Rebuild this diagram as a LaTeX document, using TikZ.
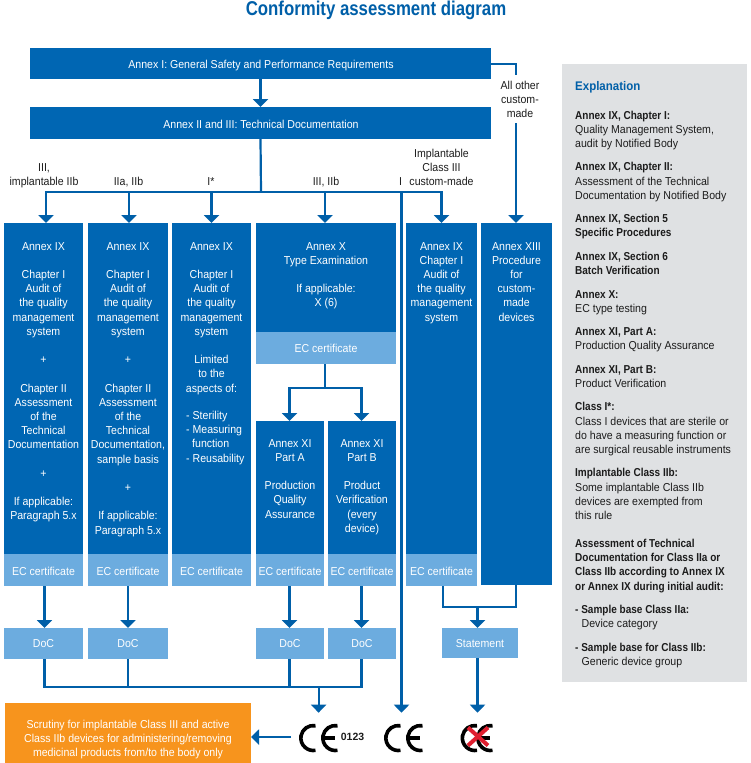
\documentclass[tikz,border=0pt]{standalone}
\usepackage{fontspec}
\setmainfont[FakeStretch=0.92]{Liberation Sans}
\newfontfamily\ttlf[FakeStretch=0.84]{Liberation Sans}
\newfontfamily\bdf[FakeStretch=0.87]{Liberation Sans}
\newfontfamily\numf{Liberation Sans}
\newcommand{\bt}[1]{{\bdf\bfseries #1}}
\usetikzlibrary{arrows.meta,calc}
\definecolor{dk}{HTML}{0066B3}
\definecolor{lt}{HTML}{6CACDF}
\definecolor{og}{HTML}{F7941D}
\definecolor{gy}{HTML}{DFE1E3}
\definecolor{ln}{HTML}{005FA8}
\definecolor{ink}{HTML}{1C1C1C}
\definecolor{xred}{HTML}{DF1F30}
\tikzset{
  bxs/.style={inner sep=0pt,outer sep=0pt},
  darkbox/.style={bxs,fill=dk},
  lightbox/.style={bxs,fill=lt},
  orangebox/.style={bxs,fill=og},
  graybox/.style={bxs,fill=gy},
  wtx/.style={text=white,align=center,inner sep=0pt,anchor=north,font=\fontsize{11.5}{14.2}\selectfont},
  btx/.style={text=ink,align=center,inner sep=0pt,anchor=north,font=\fontsize{11.5}{14.2}\selectfont},
  etx/.style={text=ink,align=left,inner sep=0pt,anchor=north west,font=\fontsize{11.5}{14.2}\selectfont},
  conn/.style={draw=ln,line width=2.2pt},
  arr/.style={conn,-{Triangle[width=15pt,length=8pt]}},
  cestroke/.style={line width=3.6pt,draw=black},
}
\newcommand{\bx}[6]{\node[#6,minimum width={#4-#2},minimum height={#5-#3}] (#1) at ({(#2+#4)/2},{(#3+#5)/2}) {};}
\newcommand{\tx}[5]{\node[#1] (#2) at (#3,{#4-4.1}) {#5};}
\newcommand{\ex}[3]{\node[etx] (#1) at (575,{#2-4.1}) {#3};}
\newcommand{\cemark}[2]{%
  \draw[cestroke] ({#1+16.5},725.7) arc[start angle=-80,end angle=-280,radius=12.5];
  \draw[cestroke] ({#2+16.5},725.7) arc[start angle=-80,end angle=-280,radius=12.5];
  \draw[line width=3.2pt] ({#2+2},738) -- ({#2+14},738);
}
\begin{document}
\begin{tikzpicture}[x=1pt,y=-1pt]
\useasboundingbox (0,0) rectangle (750,763);
% title
\node[text=ln,inner sep=0pt,font=\fontsize{20}{24}\ttlf\bfseries\selectfont] (title) at (376,10) {Conformity assessment diagram};
% top boxes
\bx{a1}{30}{48}{491}{79}{darkbox}
\bx{a2}{30}{107}{491}{139}{darkbox}
\tx{wtx}{a1t}{261}{64}{Annex I: General Safety and Performance Requirements}
\tx{wtx}{a2t}{261}{124}{Annex II and III: Technical Documentation}
% columns
\bx{c1}{4}{223}{83}{554}{darkbox}
\bx{c2}{88}{223}{168}{554}{darkbox}
\bx{c3}{172}{223}{251}{554}{darkbox}
\bx{c4}{256}{223}{396}{332}{darkbox}
\bx{c5}{406}{223}{477}{554}{darkbox}
\bx{c6}{481}{223}{552}{585}{darkbox}
\bx{e4}{256}{332}{396}{364}{lightbox}
\bx{p1}{256}{421}{324}{554}{darkbox}
\bx{p2}{328}{421}{396}{554}{darkbox}
\bx{ec1}{4}{554}{83}{586}{lightbox}
\bx{ec2}{88}{554}{168}{586}{lightbox}
\bx{ec3}{172}{554}{251}{586}{lightbox}
\bx{ec4}{256}{554}{324}{586}{lightbox}
\bx{ec5}{328}{554}{396}{586}{lightbox}
\bx{ec6}{406}{554}{477}{586}{lightbox}
\bx{d1}{4}{628}{83}{659}{lightbox}
\bx{d2}{88}{628}{168}{659}{lightbox}
\bx{d3}{256}{628}{324}{659}{lightbox}
\bx{d4}{328}{628}{396}{659}{lightbox}
\bx{st}{442}{628}{518}{658}{lightbox}
\bx{og}{5}{703}{251}{763}{orangebox}
\bx{pan}{562}{64}{747}{682}{graybox}
% column text
\tx{wtx}{c1t}{43.5}{246}{Annex IX\\[14.2pt]Chapter I\\Audit of\\the quality\\management\\system\\[14.2pt]+\\[14.2pt]Chapter II\\Assessment\\of the\\Technical\\Documentation\\[14.2pt]+\\[14.2pt]If applicable:\\Paragraph 5.x}
\tx{wtx}{c2t}{128}{246}{Annex IX\\[14.2pt]Chapter I\\Audit of\\the quality\\management\\system\\[14.2pt]+\\[14.2pt]Chapter II\\Assessment\\of the\\Technical\\Documentation,\\sample basis\\[14.2pt]+\\[14.2pt]If applicable:\\Paragraph 5.x}
\tx{wtx}{c3t}{211.5}{246}{Annex IX\\[14.2pt]Chapter I\\Audit of\\the quality\\management\\system\\[14.2pt]Limited\\to the\\aspects of:}
\node[wtx,anchor=north west,align=left] (c3l) at (186,{415-4.1}) {- Sterility\\- Measuring\\\hspace*{6pt}function\\- Reusability};
\tx{wtx}{c4t}{326}{246}{Annex X\\Type Examination\\[14.2pt]If applicable:\\X (6)}
\tx{wtx}{c5t}{441.5}{246}{Annex IX\\Chapter I\\Audit of\\the quality\\management\\system}
\tx{wtx}{c6t}{516.5}{246}{Annex XIII\\Procedure\\for\\custom-\\made\\devices}
\tx{wtx}{e4t}{326}{348}{EC certificate}
\tx{wtx}{p1t}{290}{443}{Annex XI\\Part A\\[14.2pt]Production\\Quality\\Assurance}
\tx{wtx}{p2t}{362}{443}{Annex XI\\Part B\\[14.2pt]Product\\Verification\\(every\\device)}
\foreach \n/\c in {ec1/43.5,ec2/128,ec3/211.5,ec4/290,ec5/362,ec6/441.5}{
  \tx{wtx}{\n t}{\c}{571}{EC certificate}
}
\foreach \n/\c in {d1/43.5,d2/128,d3/290,d4/362}{
  \tx{wtx}{\n t}{\c}{643}{DoC}
}
\tx{wtx}{stt}{480}{643}{Statement}
\tx{wtx}{ogt}{128}{724}{Scrutiny for implantable Class III and active\\Class IIb devices for administering/removing\\medicinal products from/to the body only}
% labels
\tx{btx}{l1}{44}{167}{III,\\implantable IIb}
\tx{btx}{l2}{128.5}{181}{IIa, IIb}
\tx{btx}{l3}{211}{181}{I*}
\tx{btx}{l4}{326}{181}{III, IIb}
\tx{btx}{l5}{400.5}{181}{I}
\tx{btx}{l6}{441.5}{153}{Implantable\\Class III\\custom-made}
\tx{btx}{l7}{520}{85}{All other\\custom-\\made}
% connectors
\coordinate (j) at (261,192);
\coordinate (bl) at (46,192);
\coordinate (b2) at (129,192);
\coordinate (b3) at (211.5,192);
\coordinate (b4) at (325,192);
\coordinate (bi) at (401.5,192);
\coordinate (br) at (441.5,192);
\coordinate (tr) at (516,64);
\coordinate (lab) at (516,75);
\coordinate (labb) at (516,123);
\coordinate (ce1n) at (318.6,712.7);
\coordinate (ce2n) at (401.5,712.7);
\coordinate (ce3n) at (477.5,712.7);
\coordinate (ce1w) at (291,737);
\coordinate (m4) at (325,388);
\coordinate (mL) at (289.5,388);
\coordinate (mR) at (361.5,388);
\coordinate (q1) at (44.5,687);
\coordinate (q2) at (128,687);
\coordinate (q3) at (289.5,687);
\coordinate (q4) at (361.5,687);
\coordinate (qm) at (318.6,687);
\coordinate (s1) at (443,606.7);
\coordinate (s2) at (516,606.7);
\coordinate (sm) at (477.5,606.7);
\draw[arr] (a1.south) -- (a1.south |- a2.north);
\draw[conn] (a2.south) -- (j);
\draw[conn,line cap=rect] (bl) -- (br);
\draw[conn] (a1.east |- tr) -- (tr) -- (lab);
\draw[arr] (labb) -- (c6.north -| labb);
\draw[arr] (bl) -- (bl |- c1.north);
\draw[arr] (b2) -- (b2 |- c2.north);
\draw[arr] (b3) -- (b3 |- c3.north);
\draw[arr] (b4) -- (b4 |- c4.north);
\draw[arr] (br) -- (br |- c5.north);
\draw[arr] (bi) -- (ce2n);
\draw[conn] (e4.south -| m4) -- (m4);
\draw[conn,line cap=rect] (mL) -- (mR);
\draw[arr] (mL) -- (mL |- p1.north);
\draw[arr] (mR) -- (mR |- p2.north);
\draw[arr] (ec1.south -| q1) -- (d1.north -| q1);
\draw[arr] (ec2.south -| q2) -- (d2.north -| q2);
\draw[arr] (ec4.south -| q3) -- (d3.north -| q3);
\draw[arr] (ec5.south -| q4) -- (d4.north -| q4);
\draw[conn] (d1.south -| q1) -- (q1) -- (q4) -- (d4.south -| q4);
\draw[conn] (d2.south -| q2) -- (q2);
\draw[conn] (d3.south -| q3) -- (q3);
\draw[arr] (qm) -- (ce1n);
\draw[conn] (ec6.south -| s1) -- (s1) -- (s2) -- (c6.south -| s2);
\draw[arr] (sm) -- (st.north -| sm);
\draw[arr] (st.south -| sm) -- (ce3n);
\draw[arr] (ce1w) -- (og.east |- ce1w);
% CE marks
\cemark{299}{321}
\node[text=ink,inner sep=0pt,font=\fontsize{10.5}{12}\numf\bfseries\selectfont] (n0123) at (352.5,737) {0123};
\cemark{384}{406}
\cemark{460.5}{476}
\draw[xred,line width=4pt] (468,727.5) -- (488,745.5);
\draw[xred,line width=4pt] (488,727.5) -- (468,745.5);
% explanation
\node[etx,text=ln,font=\fontsize{12.5}{14}\bfseries\selectfont] (exh) at (575,81.5) {Explanation};
\ex{e1}{115}{\bt{Annex IX, Chapter I:}\\Quality Management System,\\audit by Notified Body}
\ex{e2}{166.5}{\bt{Annex IX, Chapter II:}\\Assessment of the Technical\\Documentation by Notified Body}
\ex{e3}{218}{\bt{Annex IX, Section 5}\\\bt{Specific Procedures}}
\ex{e4x}{256}{\bt{Annex IX, Section 6}\\\bt{Batch Verification}}
\ex{e5}{294}{\bt{Annex X:}\\EC type testing}
\ex{e6}{331}{\bt{Annex XI, Part A:}\\Production Quality Assurance}
\ex{e7}{369}{\bt{Annex XI, Part B:}\\Product Verification}
\ex{e8}{406.5}{\bt{Class I*:}\\Class I devices that are sterile or\\do have a measuring function or\\are surgical reusable instruments}
\ex{e9}{472.5}{\bt{Implantable Class IIb:}\\Some implantable Class IIb\\devices are exempted from\\this rule}
\ex{e10}{543}{\bt{Assessment of Technical}\\\bt{Documentation for Class IIa or}\\\bt{Class IIb according to Annex IX}\\\bt{or Annex IX during initial audit:}}
\ex{e11}{609}{\bt{- Sample base Class IIa:}\\\hspace*{6.5pt}Device category}
\ex{e12}{647}{\bt{- Sample base for Class IIb:}\\\hspace*{6.5pt}Generic device group}
\end{tikzpicture}
\end{document}
